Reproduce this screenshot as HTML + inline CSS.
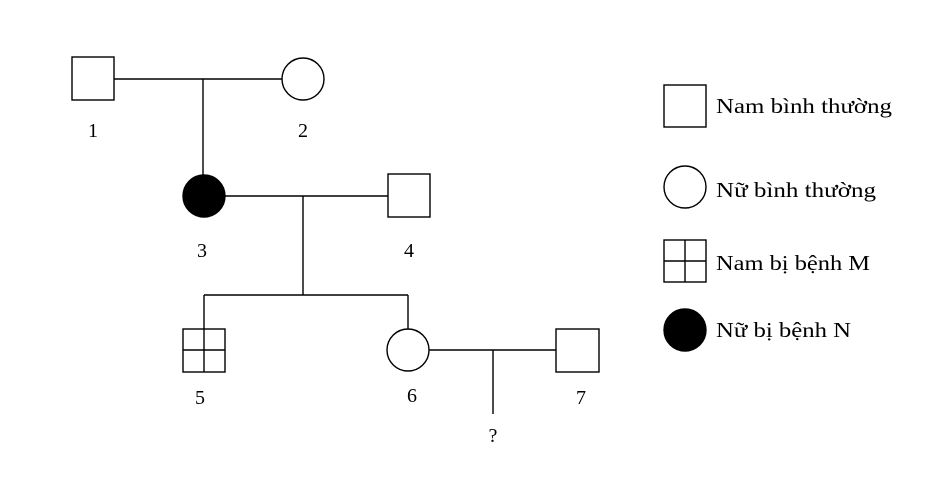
<!DOCTYPE html>
<html><head><meta charset="utf-8"><style>
html,body{margin:0;padding:0;background:#fff;}
svg text{font-family:"Liberation Serif",serif;font-size:20px;fill:#000;}
svg text.lg{font-size:21px;}
</style></head><body>
<svg width="952" height="475" viewBox="0 0 952 475" xmlns="http://www.w3.org/2000/svg">
<g stroke="#000" stroke-width="1.4" fill="none">
<rect x="72" y="57" width="42" height="43" fill="#fff"/>
<line x1="114" y1="79" x2="282" y2="79"/>
<circle cx="303" cy="79" r="21"/>
<line x1="203" y1="79" x2="203" y2="175"/>
<circle cx="204" cy="196" r="21" fill="#000"/>
<line x1="225" y1="196" x2="388" y2="196"/>
<rect x="388" y="174" width="42" height="43"/>
<line x1="303" y1="196" x2="303" y2="295"/>
<line x1="204" y1="295" x2="408" y2="295"/>
<line x1="204" y1="295" x2="204" y2="329"/>
<line x1="408" y1="295" x2="408" y2="329"/>
<rect x="183" y="329" width="42" height="43"/>
<line x1="204" y1="329" x2="204" y2="372"/>
<line x1="183" y1="350" x2="225" y2="350"/>
<circle cx="408" cy="350" r="21"/>
<line x1="429" y1="350" x2="556" y2="350"/>
<rect x="556" y="329" width="43" height="43"/>
<line x1="493" y1="350" x2="493" y2="414"/>
<rect x="664" y="85" width="42" height="42"/>
<circle cx="685" cy="187" r="21"/>
<rect x="664" y="240" width="42" height="42"/>
<line x1="685" y1="240" x2="685" y2="282"/>
<line x1="664" y1="261" x2="706" y2="261"/>
<circle cx="685" cy="330" r="21" fill="#000"/>
</g>
<g text-anchor="middle">
<text x="93" y="137">1</text>
<text x="303" y="137">2</text>
<text x="202" y="257">3</text>
<text x="409" y="257">4</text>
<text x="200" y="404">5</text>
<text x="412" y="402">6</text>
<text x="581" y="404">7</text>
<text x="493" y="442">?</text>
</g>
<text class="lg" x="716" y="113" textLength="176" lengthAdjust="spacingAndGlyphs">Nam bình thường</text>
<text class="lg" x="716" y="197" textLength="160" lengthAdjust="spacingAndGlyphs">Nữ bình thường</text>
<text class="lg" x="716" y="270" textLength="154" lengthAdjust="spacingAndGlyphs">Nam bị bệnh M</text>
<text class="lg" x="716" y="337" textLength="135" lengthAdjust="spacingAndGlyphs">Nữ bị bệnh N</text>
</svg>
</body></html>
